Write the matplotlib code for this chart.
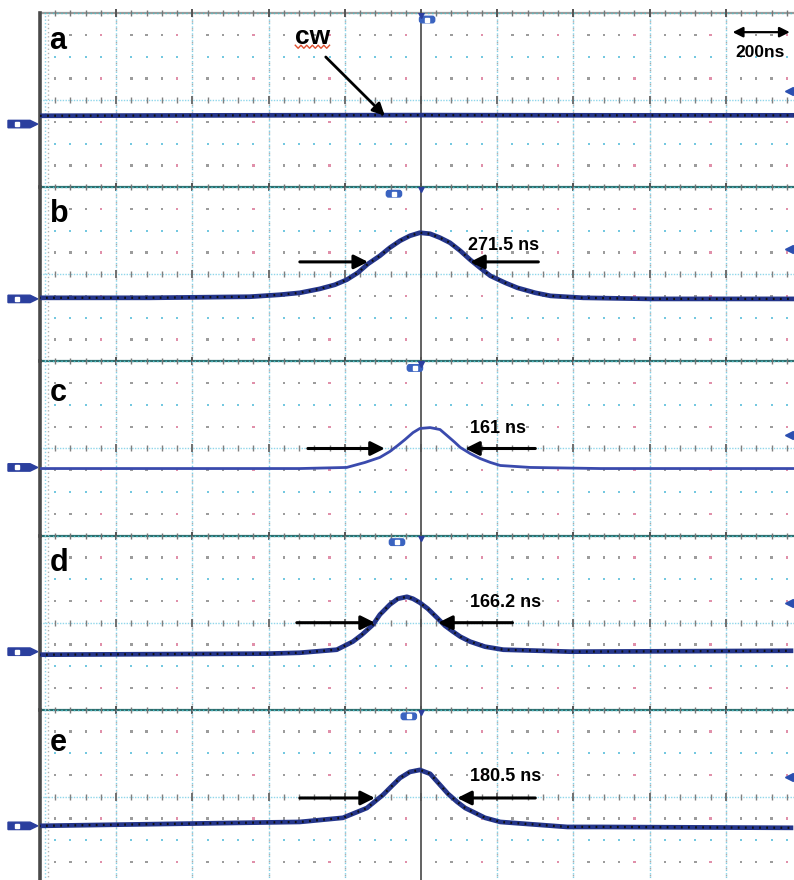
import numpy as np
import matplotlib.pyplot as plt
from matplotlib.patches import Polygon, FancyBboxPatch
from matplotlib.transforms import blended_transform_factory

plt.rcParams['font.family'] = ['Liberation Sans', 'DejaVu Sans']

# time in ns (200 ns / div), amplitude in screen divisions (8 div per panel)
t_a = [-1000, -500, 0, 500, 1000]
v_a = [-0.72, -0.70, -0.69, -0.70, -0.70]

t_b = [-1003, -713, -450, -371, -318, -266, -226, -195, -166, -139, -108, -82, -55, -29, -3,
       24, 50, 76, 103, 129, 155, 182, 221, 253, 300, 340, 426, 603, 997]
v_b = [-1.08, -1.08, -1.03, -0.94, -0.85, -0.67, -0.48, -0.25, 0.07, 0.48, 0.85, 1.22, 1.54, 1.77, 1.91,
       1.86, 1.68, 1.45, 1.08, 0.67, 0.30, -0.07, -0.39, -0.62, -0.85, -0.99, -1.08, -1.13, -1.13]

t_c = [-1003, -318, -195, -147, -108, -82, -61, -42, -21, -3, 24, 50, 68, 89, 103,
       129, 155, 182, 208, 287, 471, 997]
v_c = [-0.92, -0.92, -0.87, -0.64, -0.41, -0.14, 0.14, 0.41, 0.73, 0.92, 0.96, 0.87, 0.60, 0.28, 0.05,
       -0.23, -0.46, -0.64, -0.78, -0.87, -0.92, -0.92]

t_d = [-1003, -397, -318, -221, -179, -155, -126, -108, -82, -61, -37, -21, -3, 18, 42,
       63, 84, 103, 129, 168, 216, 392, 971]
v_d = [-1.47, -1.42, -1.38, -1.24, -0.87, -0.55, -0.09, 0.37, 0.83, 1.10, 1.19, 1.10, 0.92, 0.64, 0.23,
       -0.14, -0.41, -0.64, -0.87, -1.10, -1.24, -1.33, -1.29]

t_e = [-1003, -318, -205, -142, -100, -76, -55, -29, -3, 24, 50, 71, 95, 116, 137,
       168, 208, 384, 471, 971]
v_e = [-1.33, -1.15, -0.96, -0.51, 0.09, 0.51, 0.87, 1.15, 1.24, 1.06, 0.55, 0.14, -0.23, -0.51, -0.69,
       -0.96, -1.15, -1.38, -1.38, -1.42]

traces = [(t_a, v_a), (t_b, v_b), (t_c, v_c), (t_d, v_d), (t_e, v_e)]
labels = ['a', 'b', 'c', 'd', 'e']
label_y = [2.7, 2.78, 2.57, 2.76, 2.48]
fwhm = [None, '271.5 ns', '161 ns', '166.2 ns', '180.5 ns']
fwhm_xy = [None, (124, 1.31), (129, 0.92), (129, 0.92), (129, 0.92)]
# arrow level, left arrow (from, to), right arrow (from, to)
arr_y = [None, 0.57, 0.0, 0.0, -0.05]
arr_left = [None, (-318, -139), (-297, -95), (-326, -121), (-318, -121)]
arr_right = [None, (308, 129), (300, 116), (240, 45), (300, 95)]
ch_level = [-1.10, -1.13, -0.87, -1.33, -1.33]
trig_x = [16, -71, -16, -63, -32]
right_mark = [0.41, 1.17, 0.6, 0.9, 0.9]

W, H = 794, 880
fig = plt.figure(figsize=(W / 100, H / 100), dpi=100)
fig.patch.set_facecolor('white')

top_px, panel_px = 13, 174.2
left, width = 40 / W, 762 / W
sub = np.arange(-1000, 1001, 40)
sub = sub[(sub % 200) != 0]
divs = np.arange(-800, 1000, 200)

for i in range(5):
    bottom = 1 - (top_px + panel_px * (i + 1)) / H
    ax = fig.add_axes([left, bottom, width, panel_px / H])
    ax.set_xlim(-1000, 1000)
    ax.set_ylim(-4, 4)
    ax.axis('off')

    # graticule
    for x in divs:
        if x == 0:
            continue
        ax.axvline(x, color='#7fcfe6', lw=1.0, ls=(0, (1, 1.5)), zorder=1)
        ax.axvline(x, color='#a8a8a8', lw=1.0, ls=(1.25, (1, 4)), zorder=1)
    for y in [-3, -2, -1, 1, 2, 3]:
        if abs(y) == 2:
            ax.scatter(sub, np.full(len(sub), y), s=3, marker='s', color='#74c8e0', lw=0, zorder=1)
        else:
            cols = ['#e090aa' if (k % 4 == 3) else '#9c9c9c' for k in range(len(sub))]
            ax.scatter(sub, np.full(len(sub), y), s=3, marker='s', color=cols, lw=0, zorder=1)
    ax.axhline(0, color='#8fd6ea', lw=1.0, ls=(0, (1, 1)), zorder=1)
    ax.scatter(sub, np.zeros(len(sub)), marker='|', s=14, color='#808080', lw=1, zorder=2)
    ax.scatter(divs, np.zeros(len(divs)), marker='|', s=40, color='#707070', lw=1.4, zorder=2)

    bounds = [-4, 4] if i == 0 else [-4]
    for yb in bounds:
        ax.axhline(yb, color='#2e6e6e' if yb < 0 else '#9a9a9a', lw=1.6, zorder=2, clip_on=False)
        ax.axhline(yb, color='#4fc0c8', lw=1.0, ls=(0, (1, 2)), zorder=3, clip_on=False)
        ax.scatter(sub, np.full(len(sub), yb), marker='|', s=14, color='#777777', lw=1, zorder=3, clip_on=False)
        ax.scatter(divs, np.full(len(divs), yb), marker='|', s=36, color='#555555', lw=1.4, zorder=3, clip_on=False)

    ax.axvline(-1000, color='#4a4a4a', lw=2.6, zorder=4, clip_on=False)
    ax.axvline(-988, color='#8fd6ea', lw=1.0, ls=(0, (1, 1.5)), zorder=2)
    ax.axvline(-980, color='#b0b0b0', lw=1.0, ls=(0, (1, 2)), zorder=2)
    ax.axvline(0, color='#555555', lw=1.3, zorder=4)

    # trace
    t, v = traces[i]
    if i == 2:
        ax.plot(t, v, color='#3a4aad', lw=2.0, solid_joinstyle='round', zorder=5)
    else:
        ax.plot(t, v, color='#24358a', lw=3.4, solid_joinstyle='round', zorder=5)
        ax.plot(t, v, color='#111111', lw=1.6, ls=(0, (0.8, 2.4)), zorder=6)

    # scope markers
    tr = blended_transform_factory(ax.transAxes, ax.transData)
    yc = ch_level[i]
    tab = Polygon([(-0.042, yc - 0.17), (-0.013, yc - 0.17), (-0.003, yc), (-0.013, yc + 0.17),
                   (-0.042, yc + 0.17)], closed=True, transform=tr, color='#2b3f9e', clip_on=False, zorder=6)
    ax.add_patch(tab)
    ax.plot([-0.030], [yc], marker='s', ms=2.5, color='white', transform=tr, clip_on=False, zorder=7)
    ax.add_patch(FancyBboxPatch((trig_x[i] - 20, 3.55), 40, 0.3, boxstyle='round,pad=0,rounding_size=6',
                                color='#3a63c0', zorder=6, mutation_aspect=0.02))
    ax.plot([trig_x[i]], [3.7], marker='s', ms=2.2, color='white', zorder=7)
    ax.plot([0], [3.9], marker='v', ms=5, color='#2b3f9e', zorder=7)
    ax.plot([966], [right_mark[i]], marker='<', ms=6, color='#2b4fb0', zorder=7, clip_on=False)

    # text
    ax.text(-975, label_y[i], labels[i], fontsize=22, fontweight='bold', ha='left', va='center', zorder=8)
    if fwhm[i]:
        ax.text(fwhm_xy[i][0], fwhm_xy[i][1], fwhm[i], fontsize=13, fontweight='bold',
                ha='left', va='center', zorder=8)
        style = dict(arrowstyle='-|>,head_length=0.7,head_width=0.35', lw=2.2, color='black',
                     mutation_scale=12, shrinkA=0, shrinkB=0)
        ax.annotate('', xy=(arr_left[i][1], arr_y[i]), xytext=(arr_left[i][0], arr_y[i]), arrowprops=style, zorder=8)
        ax.annotate('', xy=(arr_right[i][1], arr_y[i]), xytext=(arr_right[i][0], arr_y[i]), arrowprops=style, zorder=8)

    if i == 0:
        ax.text(-332, 2.9, 'cw', fontsize=19, fontweight='bold', ha='left', va='center', zorder=8)
        zx = np.linspace(-330, -240, 13)
        zy = 2.45 + 0.07 * np.array([(-1) ** k for k in range(13)])
        ax.plot(zx, zy, color='#e05030', lw=1.0, zorder=8)
        ax.annotate('', xy=(-95, -0.72), xytext=(-250, 1.98),
                    arrowprops=dict(arrowstyle='-|>,head_length=0.6,head_width=0.3', lw=2.0, color='black',
                                    mutation_scale=12, shrinkA=0, shrinkB=0), zorder=8)
        ax.annotate('', xy=(968, 3.12), xytext=(818, 3.12),
                    arrowprops=dict(arrowstyle='<|-|>,head_length=0.6,head_width=0.3', lw=1.6, color='black',
                                    mutation_scale=10, shrinkA=0, shrinkB=0), zorder=8)
        ax.text(826, 2.2, '200ns', fontsize=12.5, fontweight='bold', ha='left', va='center', zorder=8)

fig.savefig('out.png', dpi=100)
